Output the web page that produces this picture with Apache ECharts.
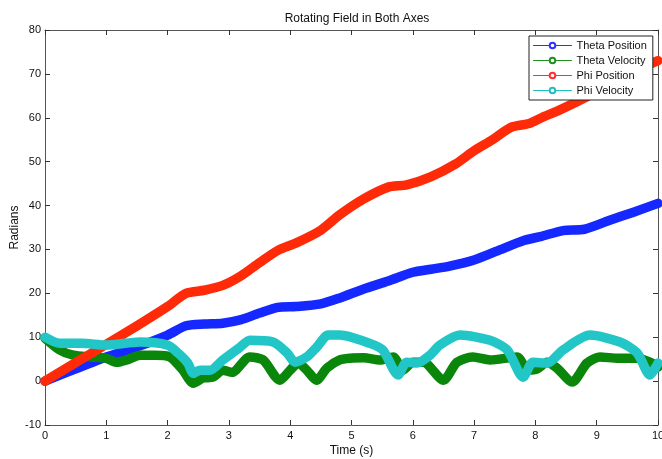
<!DOCTYPE html>
<html>
<head>
<meta charset="utf-8">
<script src="https://cdn.jsdelivr.net/npm/echarts@6/dist/echarts.min.js"></script>
<style>html,body{margin:0;padding:0;background:#fff}#c{width:662px;height:459px}</style>
</head>
<body>
<div id="c"></div>
<script>
const titleText = 'Rotating Field in Both Axes';
const xName = 'Time (s)';
const yName = 'Radians';
const seriesNames = ['Theta Position', 'Theta Velocity', 'Phi Position', 'Phi Velocity'];

const thetaPosT = [0,0.5,1,1.5,2,2.3,2.6,2.9,3.2,3.5,3.8,4.1,4.5,4.8,5.2,5.6,6,6.3,6.6,7,7.4,7.8,8.1,8.45,8.8,9.2,9.6,10];
const thetaPosV = [0,2.8,5.5,7.8,10.5,12.6,13,13.2,14,15.5,16.8,17,17.6,18.9,21,22.8,24.8,25.5,26.2,27.6,29.8,32,33,34.3,34.6,36.6,38.5,40.5];

const thetaVelT = [0,0.24,0.46,0.75,1.0,1.17,1.35,1.55,1.8,2.04,2.25,2.42,2.58,2.74,2.9,3.05,3.34,3.56,3.83,4.0,4.13,4.27,4.43,4.6,4.8,4.98,5.2,5.46,5.68,5.84,6.0,6.17,6.5,6.72,6.98,7.26,7.7,7.88,8.03,8.19,8.35,8.6,8.84,9.05,9.35,9.66,9.87,10];
const thetaVelV = [9.8,7.1,5.9,5.5,5.2,4.3,4.9,5.9,5.9,5.5,2.5,-0.5,0.7,0.9,2.5,2.0,5.5,4.8,0.2,2.5,4.1,2.5,0.2,3.0,4.8,5.2,5.3,4.8,5.5,2.5,4.3,4.3,0.2,4.3,5.5,4.8,5.5,2.5,2.8,4.3,3.0,-0.2,4.1,5.5,5.2,5.2,4.3,3.2];

const phiPosT = [0,0.5,1,1.5,2,2.3,2.6,2.9,3.2,3.5,3.8,4.1,4.5,4.8,5.2,5.6,5.9,6.3,6.7,7,7.3,7.6,7.9,8.1,8.4,8.8,9.2,9.6,10];
const phiPosV = [0,4.2,8.4,12.6,17,20,20.7,21.8,24,27,29.8,31.5,34.4,37.8,41.5,44.2,44.7,46.6,49.5,52.5,55,57.8,58.7,60,61.8,64.5,67.5,70.5,73];

const phiVelT = [0,0.24,0.6,1.0,1.55,2.0,2.17,2.33,2.42,2.53,2.69,2.9,3.18,3.34,3.72,3.95,4.08,4.27,4.43,4.62,4.81,5.3,5.51,5.76,5.9,6.07,6.28,6.44,6.77,7.26,7.54,7.8,7.96,8.19,8.45,8.89,9.38,9.66,9.87,10];
const phiVelV = [10,8.6,8.6,8.2,8.9,8.2,6.4,4.1,1.8,2.5,2.5,4.8,7.7,9.3,8.9,6.4,4.3,5.5,7.7,10.5,10.5,8.6,7.1,1.4,4.3,4.1,5.9,8.2,10.5,9.3,7.1,0.9,4.3,4.1,7.1,10.5,8.9,6.4,1.4,4.1];

const xTickLabels = ['0','1','2','3','4','5','6','7','8','9','10'];
const yTickLabels = ['-10','0','10','20','30','40','50','60','70','80'];

const lineColors = ['#1428ff', '#0a860a', '#ff2a08', '#22c6c6'];
const legendColors = ['#3030ff', '#209020', '#ff3030', '#20c0c0'];

function pairs(t, v) { return t.map((x, i) => [x, v[i]]); }
const dataSets = [pairs(thetaPosT, thetaPosV), pairs(thetaVelT, thetaVelV), pairs(phiPosT, phiPosV), pairs(phiVelT, phiVelV)];

const font = 'Liberation Sans, Arial, sans-serif';
const axisColor = '#555';

const chart = echarts.init(document.getElementById('c'), null, {renderer: 'canvas'});
const baseX = {
  type: 'value', min: 0, max: 10, interval: 1,
  axisLine: {show: true, onZero: false, lineStyle: {color: axisColor, width: 1}},
  axisTick: {show: true, inside: true, length: 5, lineStyle: {color: '#333'}},
  splitLine: {show: false}
};
const baseY = {
  type: 'value', min: -10, max: 80, interval: 10,
  axisLine: {show: true, onZero: false, lineStyle: {color: axisColor, width: 1}},
  axisTick: {show: true, inside: true, length: 5, lineStyle: {color: '#333'}},
  splitLine: {show: false}
};

chart.setOption({
  animation: false,
  backgroundColor: '#fff',
  title: {
    text: titleText, left: 352, top: 8, textAlign: 'center',
    textStyle: {fontFamily: font, fontSize: 12, fontWeight: 'normal', color: '#111'}
  },
  grid: {left: 45, right: 4, top: 30, bottom: 34, containLabel: false, outerBoundsMode: 'none'},
  xAxis: [
    Object.assign({}, baseX, {
      position: 'bottom', name: xName, nameLocation: 'middle', nameGap: 20, nameMoveOverlap: false,
      nameTextStyle: {fontFamily: font, fontSize: 12, color: '#111'},
      axisLabel: {fontFamily: font, fontSize: 11, color: '#111', margin: 5,
        formatter: (val) => xTickLabels[Math.round(val)]}
    }),
    Object.assign({}, baseX, {position: 'top', axisLabel: {show: false}})
  ],
  yAxis: [
    Object.assign({}, baseY, {
      position: 'left', name: yName, nameLocation: 'middle', nameGap: 24, nameRotate: 90, nameMoveOverlap: false,
      nameTextStyle: {fontFamily: font, fontSize: 12, color: '#111'},
      axisLabel: {fontFamily: font, fontSize: 11, color: '#111', margin: 4,
        formatter: (val) => yTickLabels[Math.round((val + 10) / 10)]}
    }),
    Object.assign({}, baseY, {position: 'right', axisLabel: {show: false}})
  ],
  legend: {
    orient: 'vertical', left: 529, top: 36, z: 20,
    padding: [4, 6, 4, 4],
    backgroundColor: '#fff', borderColor: '#222', borderWidth: 1, borderRadius: 0,
    itemWidth: 38, itemHeight: 7, itemGap: 4,
    textStyle: {fontFamily: font, fontSize: 11, color: '#111'},
    data: seriesNames.map((n, i) => ({
      name: n,
      itemStyle: {color: legendColors[i], borderWidth: 0.8},
      lineStyle: {color: legendColors[i], width: 1}
    }))
  },
  series: seriesNames.map((n, i) => ({
    name: n, type: 'line', data: dataSets[i],
    xAxisIndex: 0, yAxisIndex: 0,
    smooth: 0.25, symbol: 'emptyCircle', symbolSize: 7, showSymbol: false,
    lineStyle: {color: lineColors[i], width: 9.5, cap: 'round', join: 'round'},
    itemStyle: {color: lineColors[i]},
    z: 2 + i
  }))
});
</script>
</body>
</html>
